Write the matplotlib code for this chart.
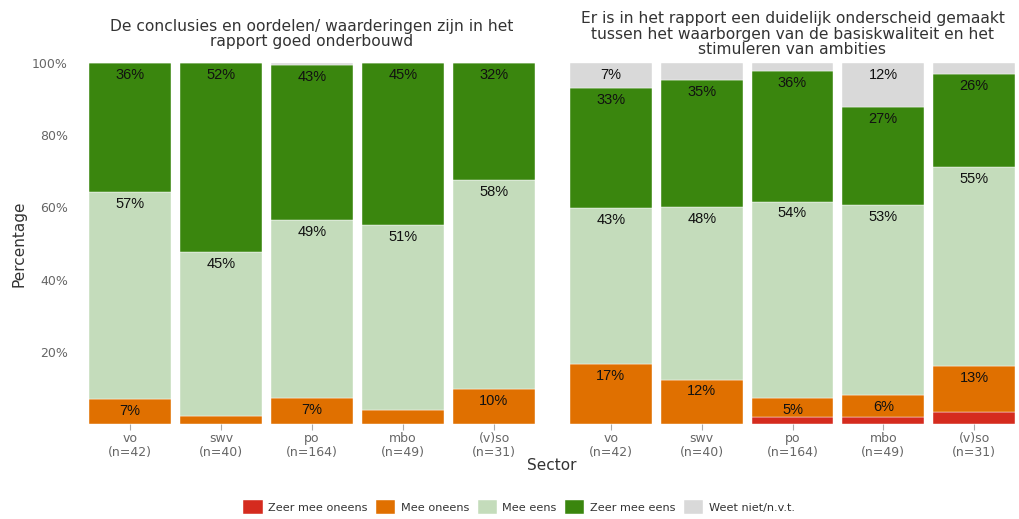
import matplotlib.pyplot as plt
import numpy as np

# Sector labels (shared by both panels)
sectors = ['vo\n(n=42)', 'swv\n(n=40)', 'po\n(n=164)', 'mbo\n(n=49)', '(v)so\n(n=31)']

categories = ['Zeer mee oneens', 'Mee oneens', 'Mee eens', 'Zeer mee eens', 'Weet niet/n.v.t.']
colors = ['#D52B1E', '#E07000', '#C4DCBB', '#3A860E', '#D9D9D9']

# left panel: percentages per category (order as in categories)
left_zeer_oneens = [0.0, 0.0, 0.0, 0.0, 0.0]
left_oneens = [6.9, 2.2, 7.2, 3.9, 9.7]
left_eens = [57.4, 45.4, 49.4, 51.2, 57.9]
left_zeer_eens = [35.7, 52.4, 42.8, 44.9, 32.4]
left_weet_niet = [0.0, 0.0, 0.6, 0.0, 0.0]

# right panel
right_zeer_oneens = [0.0, 0.0, 1.9, 1.9, 3.3]
right_oneens = [16.6, 12.3, 5.3, 6.1, 12.8]
right_eens = [43.1, 47.8, 54.4, 52.7, 55.1]
right_zeer_eens = [33.4, 35.2, 36.2, 27.1, 25.7]
right_weet_niet = [6.9, 4.7, 2.2, 12.2, 3.1]

left_title = 'De conclusies en oordelen/ waarderingen zijn in het\nrapport goed onderbouwd'
right_title = ('Er is in het rapport een duidelijk onderscheid gemaakt\n'
               'tussen het waarborgen van de basiskwaliteit en het\n'
               'stimuleren van ambities')

W, H = 1019, 519
fig = plt.figure(figsize=(W / 100, H / 100), dpi=100)
plt.rcParams['font.family'] = 'DejaVu Sans'


def px_axes(x0, x1, y0, y1):
    return fig.add_axes([x0 / W, 1 - y1 / H, (x1 - x0) / W, (y1 - y0) / H])


def draw_panel(ax, series, title, show_y):
    x = np.arange(len(sectors))
    bottom = np.zeros(len(sectors))
    for vals, col, lab in zip(series, colors, categories):
        vals = np.array(vals)
        ax.bar(x, vals, bottom=bottom, width=0.9, color=col, label=lab,
               edgecolor='white', linewidth=0.3)
        for xi, v, b in zip(x, vals, bottom):
            if v >= 5:
                ax.annotate(f'{v:.0f}%', (xi, b + v), xytext=(0, -3.5),
                            textcoords='offset points', ha='center', va='top',
                            fontsize=10.5, family='Liberation Sans', color='#111111')
        bottom += vals
    ax.set_xlim(-0.5, len(sectors) - 0.5)
    ax.set_ylim(0, 100)
    ax.set_xticks(x)
    ax.set_xticklabels(sectors, fontsize=9, color='#666666', linespacing=1.05)
    ax.tick_params(axis='x', length=4, color='#aaaaaa', pad=2)
    if show_y:
        ax.set_yticks([20, 40, 60, 80, 100])
        ax.set_yticklabels(['20%', '40%', '60%', '80%', '100%'], fontsize=9, color='#666666')
        ax.tick_params(axis='y', length=0, pad=12)
        ax.set_ylabel('Percentage', fontsize=11, color='#333333')
        ax.yaxis.set_label_coords(-0.127, 0.5)
    else:
        ax.set_yticks([])
    for s in ax.spines.values():
        s.set_visible(False)
    x0, x1 = ax.get_position().x0, ax.get_position().x1
    fig.text((x0 + x1) / 2, 1 - 34 / H, title, ha='center', va='center',
             fontsize=11.2, color='#333333', linespacing=1.05)


ax1 = px_axes(84.5, 539.5, 63, 424)
ax2 = px_axes(565.5, 1019.5, 63, 424)

draw_panel(ax1, [left_zeer_oneens, left_oneens, left_eens, left_zeer_eens, left_weet_niet],
           left_title, True)
draw_panel(ax2, [right_zeer_oneens, right_oneens, right_eens, right_zeer_eens, right_weet_niet],
           right_title, False)

fig.text(552 / W, 1 - 465 / H, 'Sector', ha='center', va='center', fontsize=11, color='#333333')

handles, labels = ax2.get_legend_handles_labels()
fig.legend(handles, labels, loc='center', bbox_to_anchor=(519 / W, 1 - 507 / H), ncol=5,
           frameon=False, fontsize=8.1, handlelength=1.7, handleheight=1.55,
           handletextpad=0.5, columnspacing=0.75, labelcolor='#333333')

fig.savefig('out.png', dpi=100)
